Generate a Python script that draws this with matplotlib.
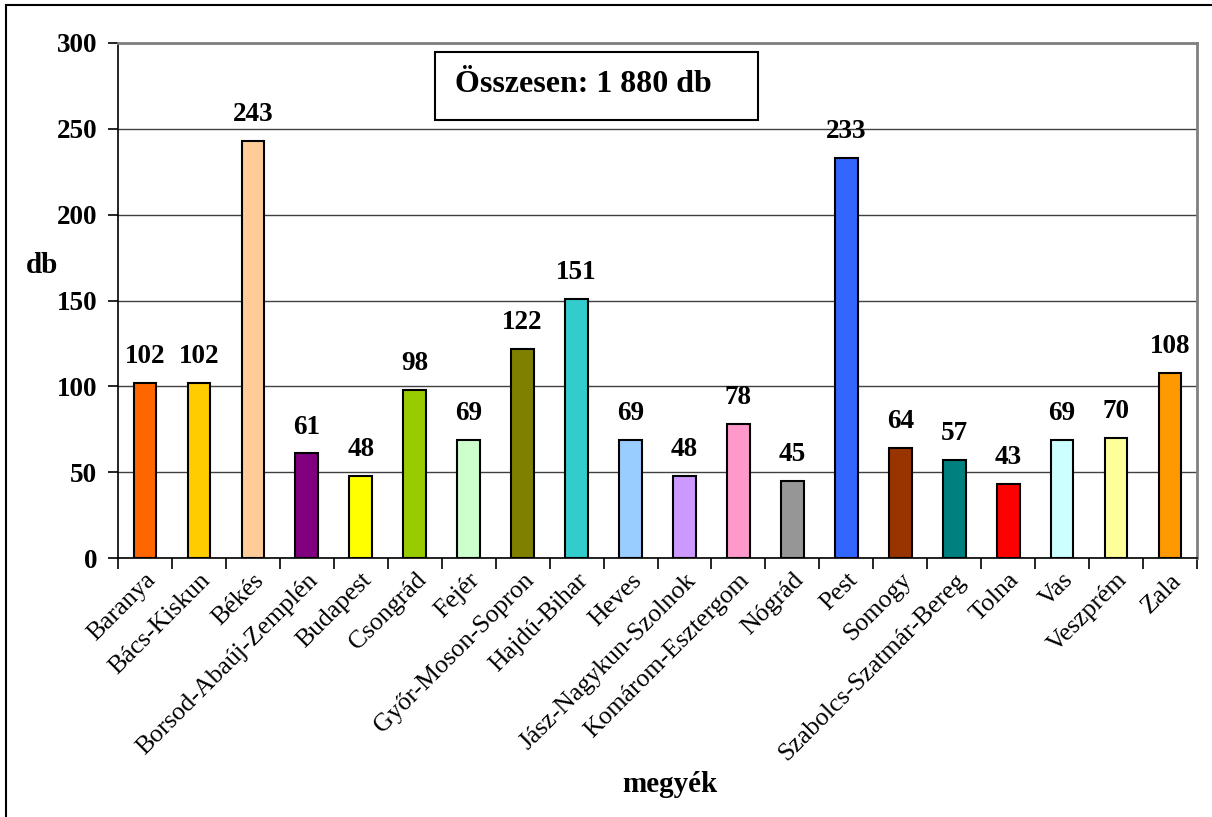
import matplotlib
matplotlib.use("Agg")
import matplotlib.pyplot as plt
from matplotlib.patches import Rectangle

plt.rcParams['font.family'] = ['Liberation Serif', 'DejaVu Serif']

megyek = ["Baranya", "Bács-Kiskun", "Békés", "Borsod-Abaúj-Zemplén", "Budapest",
          "Csongrád", "Fejér", "Győr-Moson-Sopron", "Hajdú-Bihar", "Heves",
          "Jász-Nagykun-Szolnok", "Komárom-Esztergom", "Nógrád", "Pest", "Somogy",
          "Szabolcs-Szatmár-Bereg", "Tolna", "Vas", "Veszprém", "Zala"]
db = [102, 102, 243, 61, 48, 98, 69, 122, 151, 69, 48, 78, 45, 233, 64, 57, 43, 69, 70, 108]
szinek = ["#FF6600", "#FFCC00", "#FFCC99", "#800080", "#FFFF00", "#99CC00", "#CCFFCC",
          "#808000", "#33CCCC", "#99CCFF", "#CC99FF", "#FF99CC", "#969696", "#3366FF",
          "#993300", "#008080", "#FF0000", "#CCFFFF", "#FFFF99", "#FF9900"]

fig = plt.figure(figsize=(12.12, 8.17), dpi=100)
ax = fig.add_axes([118 / 1212, 1 - 558 / 817, (1197 - 118) / 1212, (558 - 43) / 817])

x = list(range(len(megyek)))
ax.bar(x, db, width=0.42, color=szinek, edgecolor="black", linewidth=1.5, zorder=3)
for i, v in zip(x, db):
    ax.text(i, v + 8, str(v), ha="center", va="bottom", fontsize=19.5, fontweight="bold")

ax.set_xlim(-0.5, len(megyek) - 0.5)
ax.set_ylim(0, 300)
ax.set_yticks(range(0, 301, 50))
ax.set_yticklabels([str(t) for t in range(0, 301, 50)], fontsize=19.5, fontweight="bold")
ax.yaxis.grid(True, color="#404040", linewidth=1, zorder=0)

ax.set_xticks([i - 0.5 for i in range(len(megyek) + 1)], minor=False)
ax.set_xticklabels([])
ax.set_xticks(x, minor=True)
ax.set_xticklabels(megyek, minor=True, rotation=45, ha="right", rotation_mode="anchor", fontsize=18.5)
ax.tick_params(axis="x", which="minor", length=0, pad=8)
ax.tick_params(axis="x", which="major", length=8, width=1.2, direction="out")
ax.tick_params(axis="y", length=7, width=1.2, direction="out", pad=8)

for s in ["top", "right"]:
    ax.spines[s].set_color("#808080")
    ax.spines[s].set_linewidth(2)
for s in ["left", "bottom"]:
    ax.spines[s].set_color("black")
    ax.spines[s].set_linewidth(1.2)

fig.text(42 / 1212, 1 - 265 / 817, "db", fontsize=21, fontweight="bold", ha="center", va="center")
fig.text(670 / 1212, 1 - 785 / 817, "megyék", fontsize=21, fontweight="bold", ha="center", va="center")

fig.text(455 / 1212, 1 - 84 / 817, "Összesen: 1 880 db", fontsize=23, fontweight="bold",
         ha="left", va="center")
fig.patches.append(Rectangle((435 / 1212, 1 - 120 / 817), (758 - 435) / 1212, (120 - 52) / 817,
                             transform=fig.transFigure, fill=False, edgecolor="black", linewidth=1.5))
fig.patches.append(Rectangle((6 / 1212, -0.05), 1.1, 1 - 5 / 817 + 0.05,
                             transform=fig.transFigure, fill=False, edgecolor="black", linewidth=1.5))

fig.savefig("out.png", dpi=100)
